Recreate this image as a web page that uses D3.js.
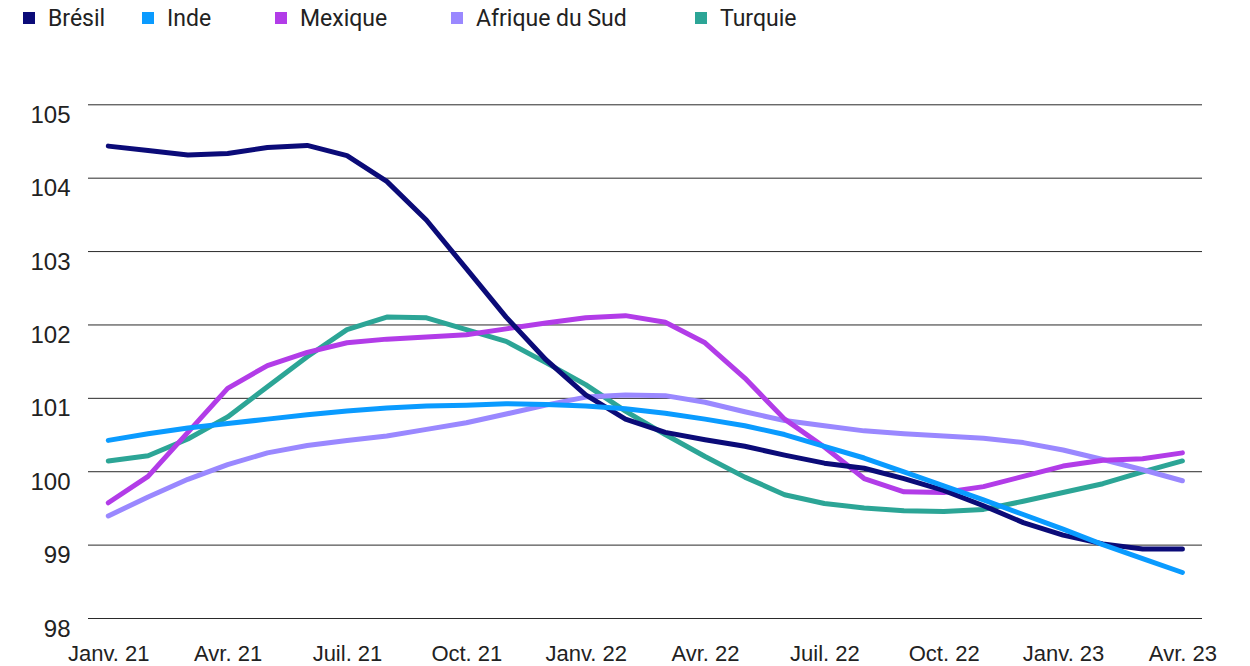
<!DOCTYPE html>
<html>
<head>
<meta charset="utf-8">
<script src="https://cdn.jsdelivr.net/npm/d3@7"></script>
<style>
  body { margin: 0; background: #fff; }
  svg { display: block; font-family: Roboto, "Noto Sans", sans-serif; }
  .y-axis .domain, .x-axis .domain { display: none; }
</style>
</head>
<body>
<svg id="vis" width="1250" height="666"></svg>
<script>
// monthly points, Jan 2021 -> Apr 2023
let months = ["2021-01","2021-02","2021-03","2021-04","2021-05","2021-06","2021-07","2021-08","2021-09","2021-10","2021-11","2021-12",
  "2022-01","2022-02","2022-03","2022-04","2022-05","2022-06","2022-07","2022-08","2022-09","2022-10","2022-11","2022-12",
  "2023-01","2023-02","2023-03","2023-04"];
let tickLabels = ["Janv. 21","Avr. 21","Juil. 21","Oct. 21","Janv. 22","Avr. 22","Juil. 22","Oct. 22","Janv. 23","Avr. 23"];
let yTicks = [98, 99, 100, 101, 102, 103, 104, 105];

let seriesNames = ["Brésil", "Inde", "Mexique", "Afrique du Sud", "Turquie"];
let colors = ["#0b0b78", "#0a9bff", "#b23ce8", "#9a88ff", "#2ca596"];

let bresil  = [104.43,104.37,104.31,104.33,104.41,104.44,104.30,103.95,103.42,102.76,102.10,101.52,101.04,100.71,100.53,100.43,100.34,100.22,100.11,100.04,99.90,99.74,99.53,99.30,99.13,99.01,98.94,98.94];
let inde    = [100.42,100.51,100.59,100.65,100.71,100.77,100.82,100.86,100.89,100.90,100.92,100.91,100.89,100.85,100.79,100.71,100.62,100.50,100.34,100.18,99.99,99.80,99.61,99.41,99.21,99.00,98.81,98.62];
let mexique = [99.57,99.93,100.53,101.13,101.44,101.62,101.75,101.80,101.83,101.86,101.94,102.02,102.09,102.12,102.03,101.75,101.27,100.71,100.33,99.90,99.72,99.71,99.79,99.93,100.07,100.15,100.17,100.25];
let afrique = [99.39,99.65,99.89,100.09,100.25,100.35,100.42,100.48,100.57,100.66,100.78,100.90,101.01,101.04,101.03,100.94,100.81,100.69,100.62,100.55,100.51,100.48,100.45,100.39,100.29,100.16,100.02,99.87];
let turquie = [100.14,100.21,100.44,100.74,101.15,101.56,101.93,102.10,102.09,101.93,101.77,101.48,101.18,100.82,100.50,100.20,99.92,99.68,99.56,99.50,99.46,99.45,99.48,99.59,99.71,99.83,99.99,100.14];

let allSeries = [bresil, inde, mexique, afrique, turquie];

let svg = d3.select("#vis");

let x = d3.scalePoint()
  .domain(months)
  .range([108.3, 1182.4]);
let y = d3.scaleLinear()
  .domain([98, 105])
  .range([618, 104.3]);

// gridlines + y labels (labels sit just under their line)
let yAxis = d3.axisLeft(y)
  .tickValues(yTicks)
  .tickSize(-(1202 - 88))
  .tickFormat(d3.format("d"));
let yg = svg.append("g")
  .attr("class", "y-axis")
  .attr("transform", "translate(88,0)")
  .call(yAxis);
yg.selectAll(".tick line")
  .attr("stroke", "#2a2a2a")
  .attr("stroke-width", 1);
yg.selectAll(".tick text")
  .attr("x", -17.5)
  .attr("y", 18)
  .attr("dy", null)
  .attr("fill", "#222")
  .style("font-size", "24px");

// x labels every 3 months
let xAxis = d3.axisBottom(x)
  .tickValues(months.filter(function(d, i) { return i % 3 === 0; }))
  .tickSize(0)
  .tickFormat(function(d, i) { return tickLabels[i]; });
let xg = svg.append("g")
  .attr("class", "x-axis")
  .attr("transform", "translate(0,661)")
  .call(xAxis);
xg.selectAll(".tick text")
  .attr("fill", "#222")
  .attr("y", 0)
  .attr("dy", null)
  .style("font-size", "22px");

// lines
let lineFunction = d3.line()
  .x(function(d, i) { return x(months[i]); })
  .y(function(d) { return y(d); });

let order = [4, 3, 2, 0, 1];
order.forEach(function(k) {
  svg.append("path")
    .attr("d", lineFunction(allSeries[k]))
    .attr("fill", "none")
    .attr("stroke", colors[k])
    .attr("stroke-width", 5)
    .attr("stroke-linejoin", "round")
    .attr("stroke-linecap", "round");
});

// legend
let legendX = [23, 142, 275, 451, 695];
let legend = svg.selectAll(".legend")
  .data(seriesNames)
  .enter().append("g")
  .attr("class", "legend")
  .attr("transform", function(d, i) { return "translate(" + legendX[i] + ",0)"; });

legend.append("rect")
  .attr("x", 0)
  .attr("y", 12)
  .attr("width", 12)
  .attr("height", 12)
  .style("fill", function(d, i) { return colors[i]; });

legend.append("text")
  .attr("x", 25)
  .attr("y", 26)
  .style("font-size", "23px")
  .attr("fill", "#222")
  .text(function(d) { return d; });
</script>
</body>
</html>
